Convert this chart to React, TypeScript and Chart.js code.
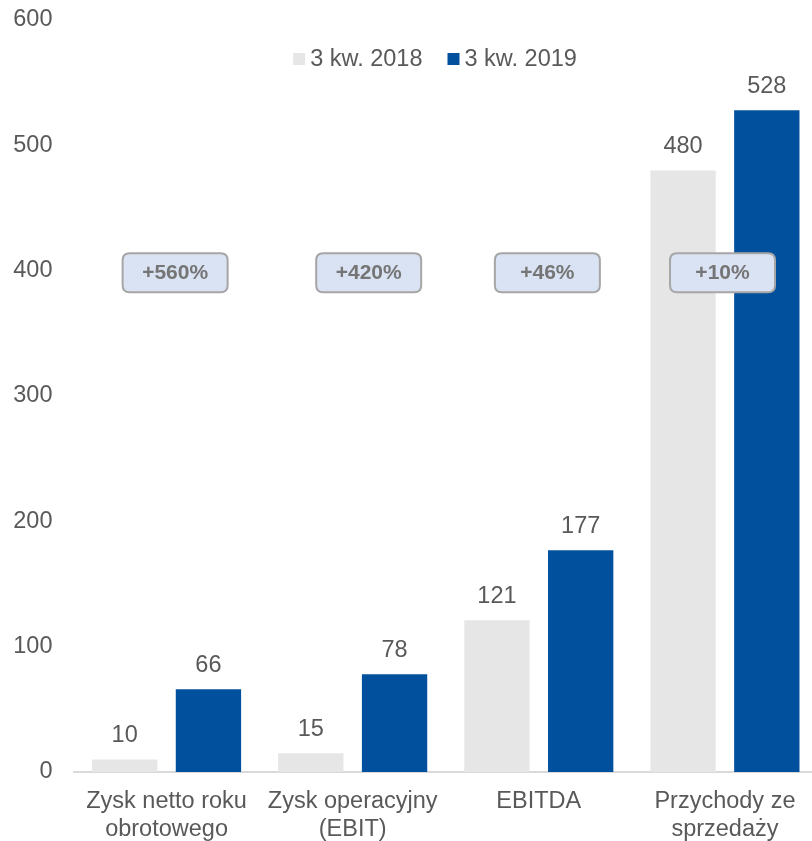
import React, { useEffect, useRef } from "react";
import { Chart, registerables } from "chart.js";

Chart.register(...registerables);

const categories: string[][] = [
  ["Zysk netto roku", "obrotowego"],
  ["Zysk operacyjny", "(EBIT)"],
  ["EBITDA"],
  ["Przychody ze", "sprzedaży"],
];
const seriesNames = ["3 kw. 2018", "3 kw. 2019"];
const values2018 = [10, 15, 121, 480];
const values2019 = [66, 78, 177, 528];
const changeLabels = ["+560%", "+420%", "+46%", "+10%"];
const changeLevel = 400;
const changeCenters = [0.046, 1.086, 2.046, 2.987];
const yMin = 0;
const yMax = 600;
const yStep = 100;

const FONT = '"Liberation Sans", Arial, sans-serif';
const TEXT = "#595959";
const GRAY = "#e6e6e6";
const BLUE = "#00509e";

function roundRect(ctx: CanvasRenderingContext2D, x: number, y: number, w: number, h: number, r: number) {
  ctx.beginPath();
  ctx.moveTo(x + r, y);
  ctx.lineTo(x + w - r, y);
  ctx.quadraticCurveTo(x + w, y, x + w, y + r);
  ctx.lineTo(x + w, y + h - r);
  ctx.quadraticCurveTo(x + w, y + h, x + w - r, y + h);
  ctx.lineTo(x + r, y + h);
  ctx.quadraticCurveTo(x, y + h, x, y + h - r);
  ctx.lineTo(x, y + r);
  ctx.quadraticCurveTo(x, y, x + r, y);
  ctx.closePath();
}

const overlayPlugin = {
  id: "overlay",
  afterDatasetsDraw(chart: any) {
    const ctx: CanvasRenderingContext2D = chart.ctx;
    const xs = chart.scales.x;
    const ys = chart.scales.y;
    ctx.save();
    // value labels
    ctx.font = `23.5px ${FONT}`;
    ctx.fillStyle = TEXT;
    ctx.textAlign = "center";
    ctx.textBaseline = "middle";
    chart.data.datasets.forEach((ds: any, di: number) => {
      const meta = chart.getDatasetMeta(di);
      meta.data.forEach((bar: any, i: number) => {
        ctx.fillText(String(ds.data[i]), bar.x, bar.y - 24);
      });
    });
    // change boxes
    changeLabels.forEach((lab, i) => {
      const cx = xs.getPixelForValue(changeCenters[i]);
      const cy = ys.getPixelForValue(changeLevel) + 2;
      const w = 105;
      const h = 39;
      roundRect(ctx, cx - w / 2, cy - h / 2, w, h, 7);
      ctx.fillStyle = "#dae3f3";
      ctx.fill();
      ctx.lineWidth = 2;
      ctx.strokeStyle = "#a6a6a6";
      ctx.stroke();
      ctx.font = `bold 21px ${FONT}`;
      ctx.fillStyle = "#757575";
      ctx.fillText(lab, cx, cy + 1);
    });
    // legend
    ctx.font = `23.5px ${FONT}`;
    ctx.textAlign = "left";
    const colors = [GRAY, BLUE];
    const box = 12;
    const gapBoxText = 5;
    const gapItems = 25;
    const widths = seriesNames.map((n) => ctx.measureText(n).width);
    const total = widths.reduce((a, b) => a + b, 0) + seriesNames.length * (box + gapBoxText) + gapItems * (seriesNames.length - 1);
    let lx = 435 - total / 2;
    const ly = 59;
    seriesNames.forEach((n, i) => {
      ctx.fillStyle = colors[i];
      ctx.fillRect(lx, ly - box / 2, box, box);
      lx += box + gapBoxText;
      ctx.fillStyle = TEXT;
      ctx.fillText(n, lx, ly + 1);
      lx += widths[i] + gapItems;
    });
    ctx.restore();
  },
};

export default function App() {
  const ref = useRef<HTMLCanvasElement | null>(null);
  useEffect(() => {
    document.body.style.margin = "0";
    document.body.style.overflow = "hidden";
    const chart = new Chart(ref.current as HTMLCanvasElement, {
      type: "bar",
      data: {
        labels: categories,
        datasets: [
          { label: seriesNames[0], data: values2018, backgroundColor: GRAY, categoryPercentage: 0.9, barPercentage: 0.78 },
          { label: seriesNames[1], data: values2019, backgroundColor: BLUE, categoryPercentage: 0.9, barPercentage: 0.78 },
        ],
      },
      options: {
        responsive: false,
        animation: false,
        layout: { padding: { top: 20, right: 0, left: 0, bottom: 0 } },
        plugins: { legend: { display: false }, tooltip: { enabled: false } },
        scales: {
          x: {
            grid: { display: false, drawTicks: false },
            border: { display: true, color: "#d9d9d9", width: 2 },
            ticks: { color: TEXT, font: { family: FONT, size: 23.5, lineHeight: 1.2 }, padding: 15, maxRotation: 0, autoSkip: false },
            afterFit: (s: any) => { s.height = 69; s.paddingLeft = 0; s.paddingRight = 0; },
          },
          y: {
            min: yMin,
            max: yMax,
            grid: { display: false, drawTicks: false },
            border: { display: false },
            ticks: { stepSize: yStep, color: TEXT, font: { family: FONT, size: 23.5 }, padding: 21 },
            afterFit: (s: any) => { s.width = 73.5; s.paddingTop = 0; s.paddingBottom = 0; },
          },
        },
      },
      plugins: [overlayPlugin],
    });
    return () => chart.destroy();
  }, []);
  return (
    <div style={{ width: 818, height: 841, overflow: "hidden" }}>
      <canvas ref={ref} width={818} height={841} style={{ display: "block" }} />
    </div>
  );
}
